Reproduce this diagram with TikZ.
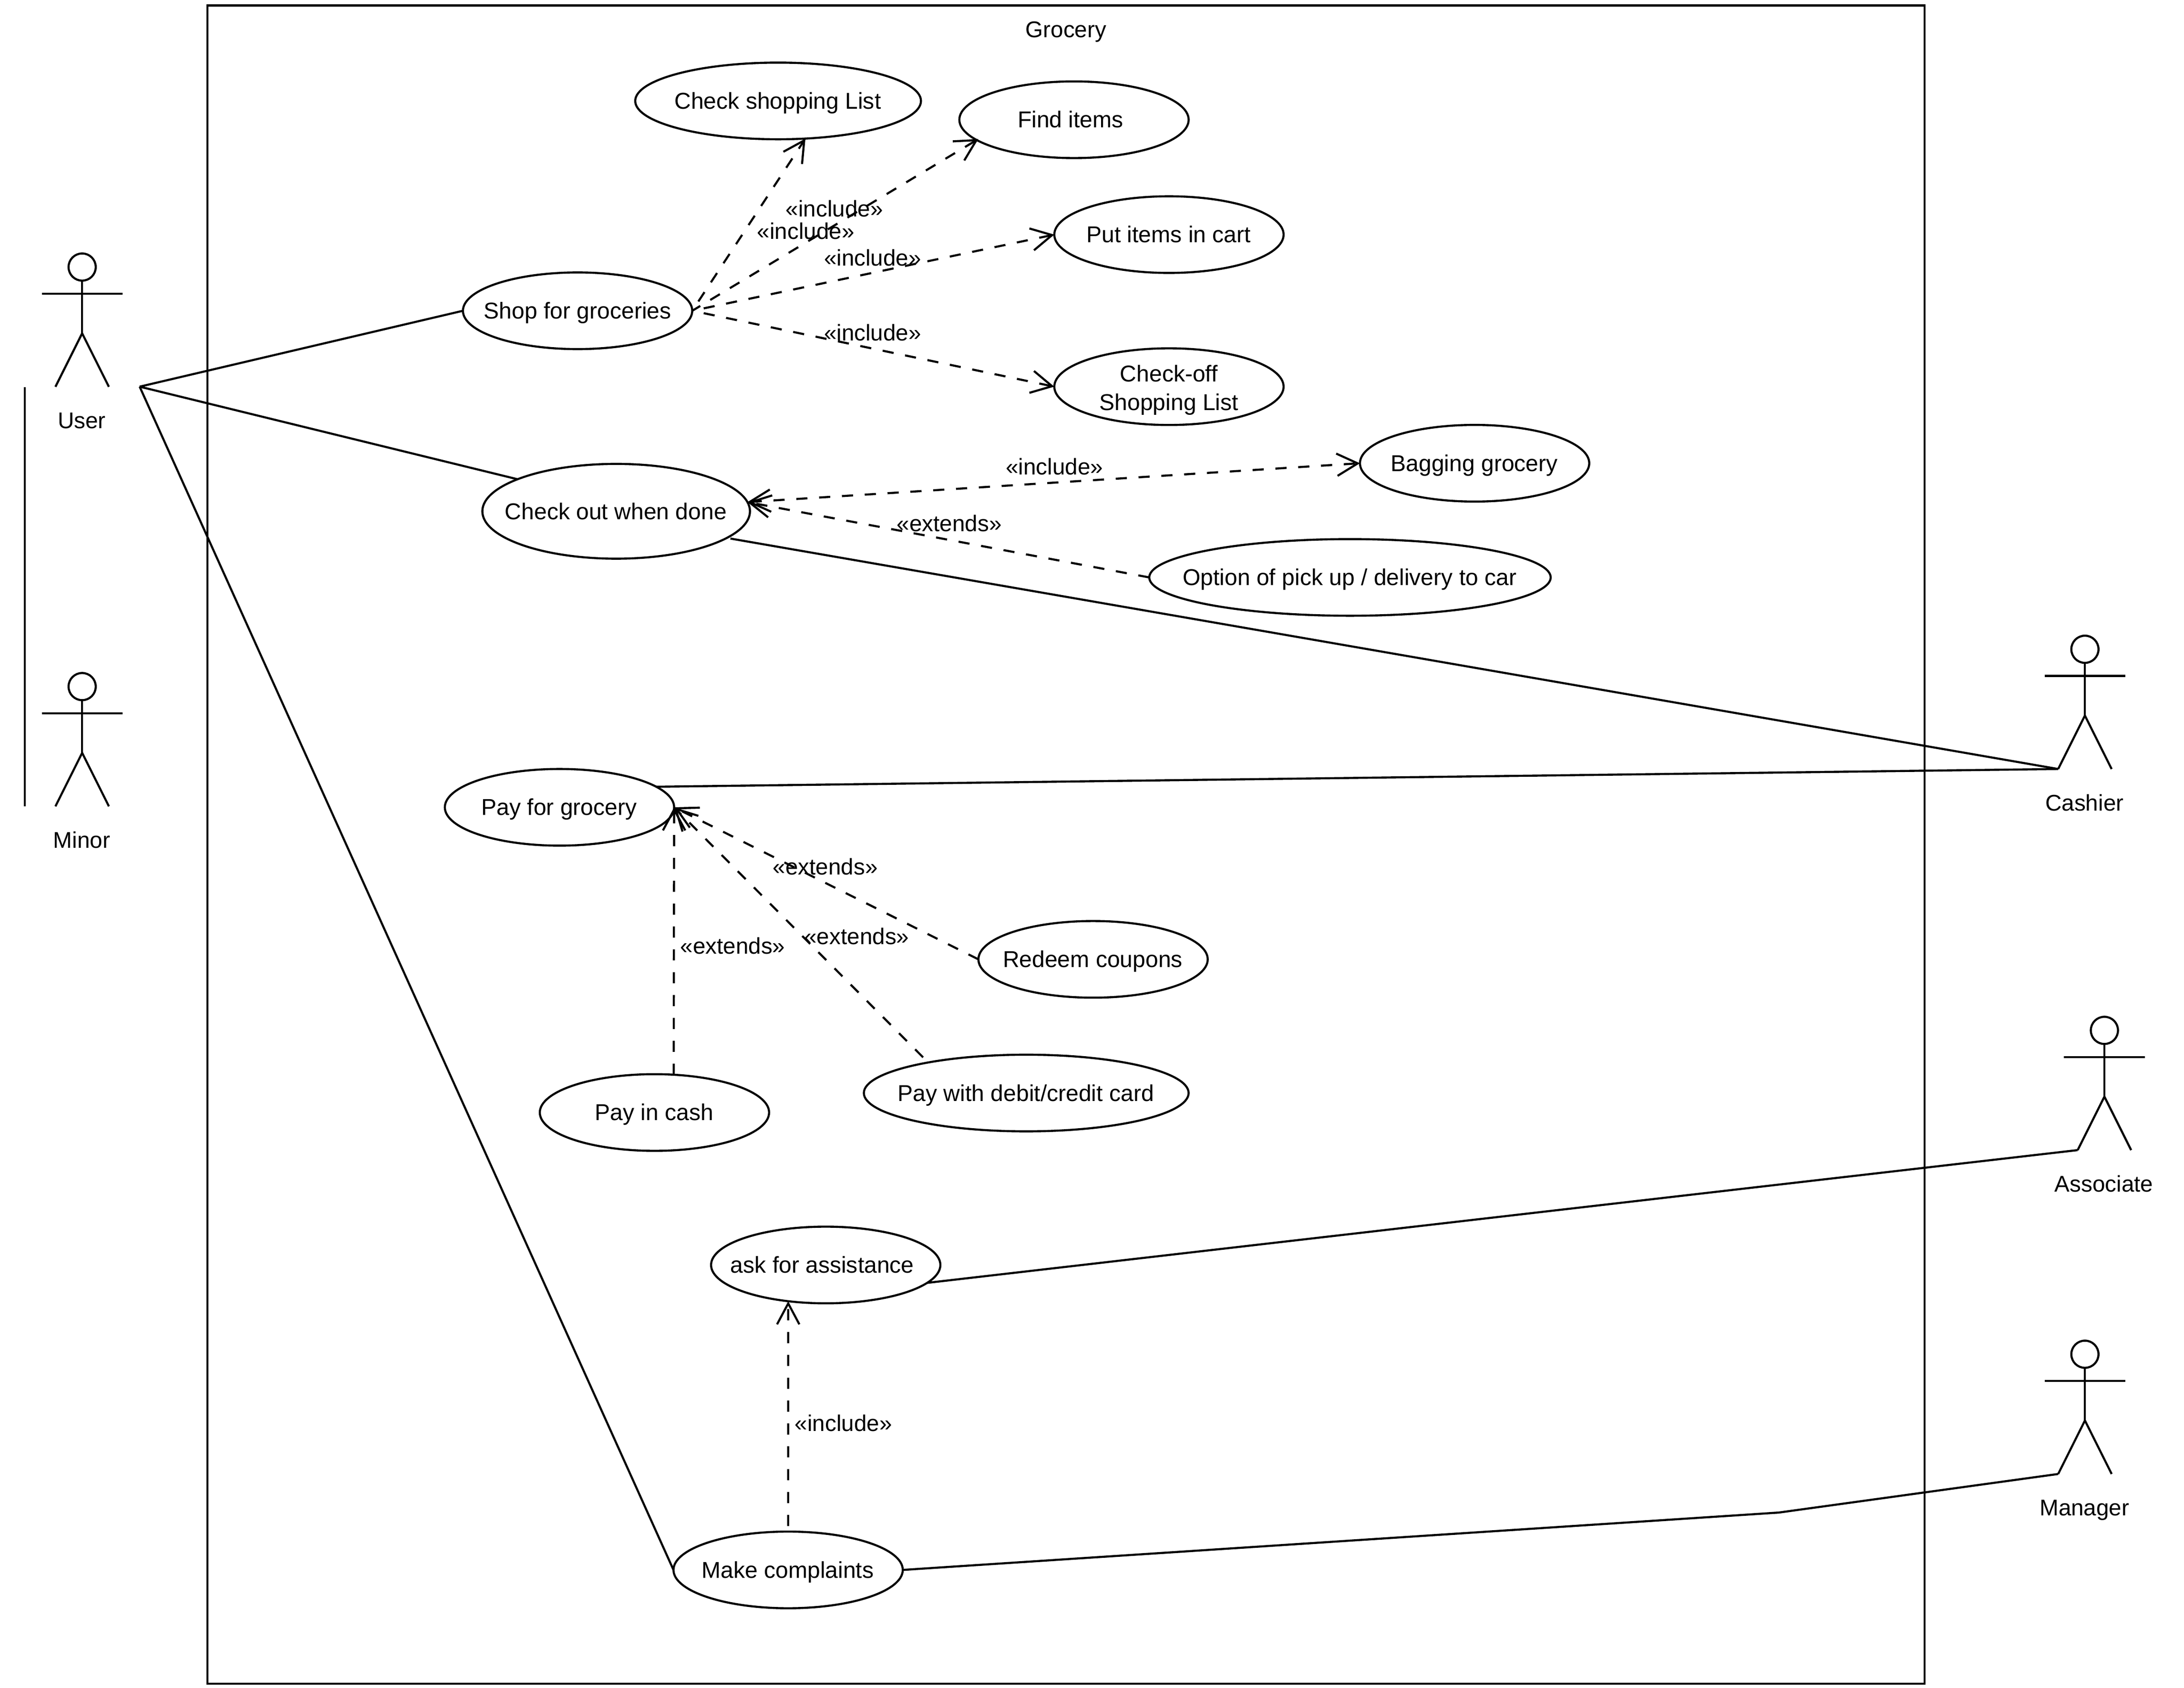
\documentclass[tikz,border=0pt]{standalone}
\usepackage{fontspec}
\setmainfont{Liberation Sans}
\usetikzlibrary{arrows.meta,shapes.geometric}
\newcommand{\uctext}[2][0.5pt]{\makebox[0pt]{\fontsize{16.45}{20.5}\selectfont #2\kern#1}}
\tikzset{
  every node/.style={font=\fontsize{16.3}{20.5}\selectfont,text=black,outer sep=0pt,text height=13pt,text depth=1.5pt},
  lineart/.style={line width=1.5pt,draw=black,line join=miter},
  usecase/.style={ellipse,draw=black,line width=1.5pt,minimum width=#1,minimum height=55pt,inner sep=0pt,fill=white},
  usecase/.default=164.5pt,
  assoc/.style={lineart},
  dep/.style={lineart,dash pattern=on 8pt off 8.4pt,-{Straight Barb[length=15pt,width=16pt]}},
  depboth/.style={lineart,dash pattern=on 8pt off 8.4pt,{Straight Barb[length=15pt,width=16pt]}-{Straight Barb[length=15pt,width=16pt]}},
  deplabel/.style={inner sep=0pt},
  actorhead/.style={circle,draw=black,line width=1.5pt,minimum size=19.5pt,inner sep=0pt,text height=0pt,text depth=0pt},
  actorlabel/.style={inner sep=0pt}
}
\newcommand{\umlactor}[4]{%
  \begin{scope}[shift={(#2,#3)}]
    \node[actorhead] (#1head) at (0,9.8) {};
    \coordinate (#1neck) at (0,19.6);
    \coordinate (#1hip) at (0,57.4);
    \coordinate (#1armL) at (-29,29);
    \coordinate (#1armR) at (29,29);
    \coordinate (#1footL) at (-19.2,95.8);
    \coordinate (#1footR) at (19.2,95.8);
    \draw[lineart] (#1head.south) -- (#1hip);
    \draw[lineart] (#1armL) -- (#1armR);
    \draw[lineart] (#1footL) -- (#1hip) -- (#1footR);
    \node[actorlabel] (#1label) at (-0.3,120) {#4};
  \end{scope}}
\begin{document}
\begin{tikzpicture}[x=.999pt,y=-.999pt]
\useasboundingbox (0,0) rectangle (1568.47,1212.31);
\node[draw=black,line width=1.5pt,minimum width=1232pt,minimum height=1204pt,inner sep=0pt,anchor=north west,text height=0pt,text depth=0pt] (system) at (148.9,4) {};
\node[inner sep=0pt] (systitle) at (765.5,21) {Grocery};

\umlactor{user}{59}{182}{User}
\umlactor{minor}{59}{483.3}{Minor}
\umlactor{cashier}{1497.3}{456.5}{Cashier}
\umlactor{associate}{1511.3}{730.2}{Associate}
\umlactor{manager}{1497.3}{962.8}{Manager}

\coordinate (gentop) at (17.8,278);
\coordinate (genbot) at (17.8,579);
\draw[lineart] (gentop) -- (genbot);

\coordinate (userport) at (100.3,277.7);
\coordinate (managerbend) at (1277.5,1086.3);

\node[usecase=205pt] (checklist) at (558.8,72.5) {\uctext{Check shopping List}};
\node[usecase] (find) at (771.3,86) {\uctext[5pt]{Find items}};
\node[usecase] (put) at (839.5,168.5) {\uctext{Put items in cart}};
\node[usecase] (checkoff) at (839.5,277.7) {\uctext[0pt]{\raisebox{-11.25pt}[0pt][0pt]{\begin{tabular}[b]{@{}c@{}}Check-off\\Shopping List\end{tabular}}}};
\node[usecase] (shop) at (414.8,223.2) {\uctext[0pt]{Shop for groceries}};
\node[usecase=192pt,minimum height=68pt] (checkout) at (442.5,367.2) {\uctext{Check out when done}};
\node[usecase] (bag) at (1059,332.7) {\uctext{Bagging grocery}};
\node[usecase=288pt] (option) at (969.5,414.7) {\uctext{Option of pick up / delivery to car}};
\node[usecase] (pay) at (401.8,579.8) {\uctext{Pay for grocery}};
\node[usecase] (redeem) at (785,689) {\uctext{Redeem coupons}};
\node[usecase=233pt] (card) at (737,785) {\uctext{Pay with debit/credit card}};
\node[usecase] (cash) at (470,799) {\uctext{Pay in cash}};
\node[usecase] (assist) at (593,908.5) {\uctext[5pt]{ask for assistance}};
\node[usecase] (complain) at (566,1127.5) {\uctext{Make complaints}};

\draw[assoc] (userport) -- (shop.west);
\draw[assoc] (userport) -- (checkout.162);
\draw[assoc] (userport) -- (complain.west);
\draw[assoc] ([xshift=3.5pt]checkout.-14) -- (cashierfootL);
\draw[assoc] (pay.12) -- (cashierfootL);
\draw[assoc] (assist.-10.5) -- (associatefootL);
\draw[assoc] (complain.east) -- (managerbend) -- (managerfootL);

\draw[dep,dash phase=8.4pt] (shop.east) -- (checklist.-54.6);
\draw[dep,dash phase=1.3pt] (shop.east) -- ([xshift=2.5pt]find.191.5);
\draw[dep,dash phase=8pt] (shop.east) -- (put.west);
\draw[dep,dash phase=8pt] (shop.east) -- (checkoff.west);
\draw[depboth] (checkout.4.3) -- (bag.west);
\draw[dep] (option.west) -- (checkout.4.3);
\draw[dep] (redeem.west) -- (pay.east);
\draw[dep] ([yshift=4.4pt]card.164.2) -- (pay.east);
\draw[dep] (cash.63.5) -- (pay.east);
\draw[dep] ([yshift=4pt]complain.north) -- (assist.224);

\node[deplabel] (l1) at (599.2,150) {«include»};
\node[deplabel] (l2) at (578.7,166) {«include»};
\node[deplabel] (l3) at (626.7,185) {«include»};
\node[deplabel] (l4) at (626.7,239) {«include»};
\node[deplabel] (l5) at (757.2,335) {«include»};
\node[deplabel] (l6) at (681.7,376) {«extends»};
\node[deplabel] (l7) at (592.7,622.5) {«extends»};
\node[deplabel] (l8) at (615.2,672.5) {«extends»};
\node[deplabel] (l9) at (526.2,679.5) {«extends»};
\node[deplabel] (l10) at (605.7,1022) {«include»};
\end{tikzpicture}
\end{document}
